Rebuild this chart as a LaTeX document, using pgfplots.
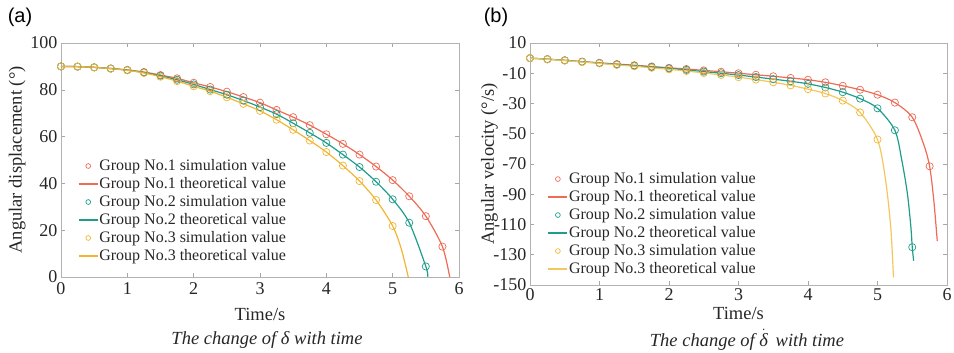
\documentclass[border=0pt]{standalone}
\usepackage{fontspec}
\setmainfont{Liberation Serif}
\newfontfamily\arialf{Liberation Sans}
\usepackage{pgfplots}
\pgfplotsset{compat=1.18}
\definecolor{cr}{HTML}{EE6B55}
\definecolor{ct}{HTML}{1E9E8A}
\definecolor{cy}{HTML}{F2B531}
\definecolor{cyb}{HTML}{F3C75C}
\definecolor{txt}{HTML}{262626}
\pgfplotsset{
  myax/.style={
    scale only axis,
    axis line style={draw=gray!60},
    tick style={draw=gray!70, line width=0.5pt},
    major tick length=4pt,
    tick align=inside,
    xmin=0, xmax=6, xtick={0,1,...,6},
    /pgf/number format/assume math mode=true,
    tick label style={font=\rmfamily\fontsize{18}{18}\selectfont, text=txt},
    label style={font=\fontsize{18.5}{18.5}\selectfont, text=txt},
    legend cell align=left,
    legend image code/.code={\draw[mark repeat=2,mark phase=2] plot coordinates {(0pt,0pt) (9.5pt,0pt) (19pt,0pt)};},
    every legend image post/.style={mark size=2.4pt},
    legend style={draw=none, fill=none, anchor=north west,
      font=\fontsize{16}{16}\selectfont, text=txt,
      row sep=1pt, column sep=0pt,
      nodes={inner sep=1pt, text height=11.5pt, text depth=3.5pt}},
  },
  simm/.style={only marks, mark=o, mark size=3.6pt, mark options={line width=0.7pt}},
  theo/.style={no markers, smooth, line width=1.2pt},
}
\begin{document}
\begin{tikzpicture}
\path[use as bounding box] (0,0) rectangle (954pt,353pt);
% ---------------- (a) ----------------
\begin{axis}[myax,
  at={(61pt,76pt)}, anchor=south west,
  width=398pt, height=234pt,
  ymin=0, ymax=100, ytick={0,20,...,100},
  xlabel={Time/s}, ylabel={Angular displacement (°)},
  xlabel style={at={(axis description cs:0.5,-0.158)}, anchor=center},
  ylabel style={at={(axis description cs:-0.11,0.5)}, anchor=center},
  xticklabel style={yshift=-2pt},
  legend style={at={(0.035,0.52)}},
]
\addplot[simm, cr] table {
t v
0 90
0.25 89.9
0.5 89.6
0.75 89.1
1 88.5
1.25 87.6
1.5 86.3
1.75 84.9
2 83.0
2.25 81.2
2.5 79.2
2.75 76.9
3 74.5
3.25 71.4
3.5 68.3
3.75 64.9
4 61.0
4.25 56.9
4.5 52.3
4.75 47.2
5 41.4
5.25 34.5
5.5 26.0
5.75 13.0
};
\addlegendentry{Group No.1 simulation value}
\addplot[theo, cr] table {
t v
0 90
0.25 89.9
0.5 89.6
0.75 89.1
1 88.5
1.25 87.6
1.5 86.3
1.75 84.9
2 83.0
2.25 81.2
2.5 79.2
2.75 76.9
3 74.5
3.25 71.4
3.5 68.3
3.75 64.9
4 61.0
4.25 56.9
4.5 52.3
4.75 47.2
5 41.4
5.25 34.5
5.5 26.0
5.75 13.0
5.86 0
};
\addlegendentry{Group No.1 theoretical value}
\addplot[simm, ct] table {
t v
0 90
0.25 89.9
0.5 89.6
0.75 89.1
1 88.4
1.25 87.4
1.5 86.0
1.75 84.3
2 82.3
2.25 80.1
2.5 77.9
2.75 75.4
3 72.6
3.25 69.6
3.5 65.7
3.75 61.6
4 57.3
4.25 52.3
4.5 47.0
4.75 40.7
5 33.2
5.25 23.2
5.5 4.5
};
\addlegendentry{Group No.2 simulation value}
\addplot[theo, ct] table {
t v
0 90
0.25 89.9
0.5 89.6
0.75 89.1
1 88.4
1.25 87.4
1.5 86.0
1.75 84.3
2 82.3
2.25 80.1
2.5 77.9
2.75 75.4
3 72.6
3.25 69.6
3.5 65.7
3.75 61.6
4 57.3
4.25 52.3
4.5 47.0
4.75 40.7
5 33.2
5.25 23.2
5.5 4.5
5.53 0
};
\addlegendentry{Group No.2 theoretical value}
\addplot[simm, cy] table {
t v
0 90
0.25 89.9
0.5 89.6
0.75 89.0
1 88.3
1.25 87.2
1.5 85.6
1.75 83.7
2 81.5
2.25 79.4
2.5 76.8
2.75 74.0
3 71.0
3.25 67.2
3.5 62.9
3.75 58.3
4 53.4
4.25 47.6
4.5 41.0
4.75 32.9
5 21.8
};
\addlegendentry{Group No.3 simulation value}
\addplot[theo, cy] table {
t v
0 90
0.25 89.9
0.5 89.6
0.75 89.0
1 88.3
1.25 87.2
1.5 85.6
1.75 83.7
2 81.5
2.25 79.4
2.5 76.8
2.75 74.0
3 71.0
3.25 67.2
3.5 62.9
3.75 58.3
4 53.4
4.25 47.6
4.5 41.0
4.75 32.9
5 21.8
5.13 12.0
5.235 0
};
\addlegendentry{Group No.3 theoretical value}
\end{axis}
% ---------------- (b) ----------------
\begin{axis}[myax,
  at={(530pt,68pt)}, anchor=south west,
  width=417pt, height=242pt,
  ymin=-150, ymax=10, ytick={-150,-130,...,10},
  xlabel={Time/s}, ylabel={Angular velocity (°/s)},
  xlabel style={at={(axis description cs:0.5,-0.116)}, anchor=center},
  ylabel style={at={(axis description cs:-0.097,0.5)}, anchor=center},
  legend style={at={(0.035,0.48)}, yshift=0.5pt},
]
\addplot[simm, cr] table {
t v
0 0
0.25 -0.7
0.5 -1.4
0.75 -2.3
1 -3.1
1.25 -3.9
1.5 -4.7
1.75 -5.5
2 -6.4
2.25 -7.2
2.5 -8.1
2.75 -9.0
3 -10.0
3.25 -11.0
3.5 -12.0
3.75 -13.1
4 -14.3
4.25 -16.0
4.5 -18.3
4.75 -20.9
5 -24.2
5.25 -29.4
5.5 -39.1
5.75 -71.5
};
\addlegendentry{Group No.1 simulation value}
\addplot[theo, cr] table {
t v
0 0
0.25 -0.7
0.5 -1.4
0.75 -2.3
1 -3.1
1.25 -3.9
1.5 -4.7
1.75 -5.5
2 -6.4
2.25 -7.2
2.5 -8.1
2.75 -9.0
3 -10.0
3.25 -11.0
3.5 -12.0
3.75 -13.1
4 -14.3
4.25 -16.0
4.5 -18.3
4.75 -20.9
5 -24.2
5.25 -29.4
5.5 -39.1
5.66 -56.4
5.75 -71.5
5.81 -94
5.86 -121
};
\addlegendentry{Group No.1 theoretical value}
\addplot[simm, ct] table {
t v
0 0
0.25 -0.7
0.5 -1.5
0.75 -2.4
1 -3.3
1.25 -4.2
1.5 -5.0
1.75 -5.9
2 -6.8
2.25 -7.8
2.5 -8.9
2.75 -10.0
3 -11.2
3.25 -12.5
3.5 -13.9
3.75 -15.3
4 -17.0
4.25 -19.4
4.5 -22.5
4.75 -26.8
5 -33.2
5.25 -47.7
5.5 -125
};
\addlegendentry{Group No.2 simulation value}
\addplot[theo, ct] table {
t v
0 0
0.25 -0.7
0.5 -1.5
0.75 -2.4
1 -3.3
1.25 -4.2
1.5 -5.0
1.75 -5.9
2 -6.8
2.25 -7.8
2.5 -8.9
2.75 -10.0
3 -11.2
3.25 -12.5
3.5 -13.9
3.75 -15.3
4 -17.0
4.25 -19.4
4.5 -22.5
4.75 -26.8
5 -33.2
5.25 -47.7
5.35 -67.6
5.43 -89.5
5.48 -111.5
5.5 -125
5.52 -134
};
\addlegendentry{Group No.2 theoretical value}
\addplot[simm, cy] table {
t v
0 0
0.25 -0.8
0.5 -1.6
0.75 -2.6
1 -3.5
1.25 -4.5
1.5 -5.4
1.75 -6.4
2 -7.4
2.25 -8.5
2.5 -9.8
2.75 -11.1
3 -12.6
3.25 -14.2
3.5 -16.0
3.75 -18.0
4 -20.5
4.25 -23.4
4.5 -28.1
4.75 -35.9
5 -53.8
};
\addlegendentry{Group No.3 simulation value}
\addplot[theo, cyb] table {
t v
0 0
0.25 -0.8
0.5 -1.6
0.75 -2.6
1 -3.5
1.25 -4.5
1.5 -5.4
1.75 -6.4
2 -7.4
2.25 -8.5
2.5 -9.8
2.75 -11.1
3 -12.6
3.25 -14.2
3.5 -16.0
3.75 -18.0
4 -20.5
4.25 -23.4
4.5 -28.1
4.75 -35.9
5 -53.8
5.11 -78.5
5.19 -111.5
5.23 -145
};
\addlegendentry{Group No.3 theoretical value}
\end{axis}
% ---------------- texts ----------------
\node[font=\arialf\fontsize{20}{20}\selectfont, text=black] at (20pt,335.5pt) {(a)};
\node[font=\arialf\fontsize{20}{20}\selectfont, text=black] at (496pt,335.5pt) {(b)};
\node[font=\itshape\fontsize{18.5}{18.5}\selectfont, text=txt] at (267pt,13pt) {The change of δ with time};
\node[font=\itshape\fontsize{18.5}{18.5}\selectfont, text=txt] at (747pt,13pt) {The change of \(\dot{\mbox{\itshape δ}}\)\, with time};
\end{tikzpicture}
\end{document}
